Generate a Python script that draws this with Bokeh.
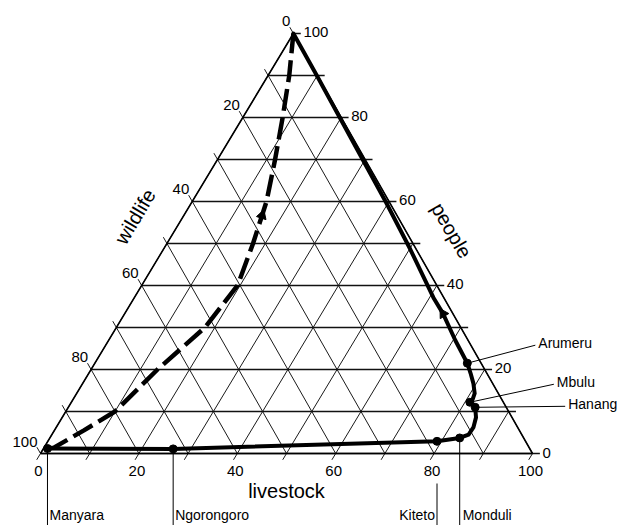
import math
import numpy as np
from bokeh.plotting import figure
from bokeh.models import Range1d
from bokeh.core.properties import value
from bokeh.embed import file_html
from bokeh.resources import INLINE

# ---------------- data (percent livestock, percent people; wildlife = rest) ----------------
district_names = ["Manyara", "Ngorongoro", "Kiteto", "Monduli", "Hanang", "Mbulu", "Arumeru"]
district_livestock = [0.8, 26.4, 79.1, 83.3, 82.7, 81.0, 75.7]
district_people = [1.2, 1.1, 2.9, 3.7, 11.0, 12.2, 21.5]

# solid trajectory (through the districts, then up the people side)
solid_livestock = [0.8, 26.4, 79.1, 83.3, 84.7, 84.8, 84.1, 82.7, 81.0, 81.2, 80.9,
                   79.4, 77.6, 75.7, 70.5, 64.7, 60.8, 50.0, 39.3, 29.5, 19.7, 9.9, 0.0]
solid_people = [1.2, 1.1, 2.9, 3.7, 4.5, 6.2, 8.6, 11.0, 12.2, 12.9, 14.3,
                16.7, 19.1, 21.5, 26.9, 33.3, 37.1, 48.8, 60.0, 70.0, 80.0, 90.0, 100.0]

# dashed trajectory
dashed_livestock = [0.8, 2.0, 6.0, 10.0, 13.5, 18.0, 19.5, 17.5, 15.1, 11.7, 8.1, 4.3, 0.0]
dashed_people = [1.2, 1.4, 5.5, 10.0, 20.0, 30.0, 40.0, 50.0, 60.0, 70.0, 80.0, 90.0, 100.0]

# arrowheads (one on each trajectory)
arrow_livestock = [15.9, 64.7]
arrow_people = [56.7, 33.3]

grid_values = [0, 10, 20, 30, 40, 50, 60, 70, 80, 90, 100]
label_values = [0, 20, 40, 60, 80, 100]
axis_titles = ["livestock", "wildlife", "people"]

# ---------------- geometry / layout ----------------
PX = 4.92          # screen px per percent
SKEW = 0.514       # apex shift (scan is slightly sheared)
VS = 0.8537        # vertical scale of people axis
EXT = 1.5          # tick extension length (percent units)
FONT = value("Liberation Sans")
W, H = 621, 525
ORIGIN_X, ORIGIN_Y = 40, 453   # screen position of the bottom-left corner


def to_xy(L, P):
    L = np.asarray(L, dtype=float)
    P = np.asarray(P, dtype=float)
    return L + SKEW * P, VS * P


def sy(py):
    """screen row -> data y"""
    return (ORIGIN_Y - py) / PX


X0 = -ORIGIN_X / PX
X1 = X0 + W / PX
Y1 = ORIGIN_Y / PX
Y0 = Y1 - H / PX

p = figure(width=W, height=H, x_range=Range1d(X0, X1), y_range=Range1d(Y0, Y1),
           output_backend="svg", toolbar_location=None, min_border=0,
           x_axis_location=None, y_axis_location=None)
p.grid.visible = False
p.outline_line_color = None
p.background_fill_color = "white"
p.border_fill_color = "white"

# ---------------- grid lines with tick extensions ----------------
hx, hy, dx_, dy_ = [], [], [], []
for t in grid_values:
    a = to_xy([0, 100 - t + EXT], [t, t])                 # constant people
    hx.append(list(a[0])); hy.append(list(a[1]))
    b = to_xy([100 - t, -EXT], [0, 100 - t + EXT])        # constant wildlife
    dx_.append(list(b[0])); dy_.append(list(b[1]))
    c = to_xy([t, t], [100 - t, -EXT])                    # constant livestock
    dx_.append(list(c[0])); dy_.append(list(c[1]))

p.multi_line(dx_, dy_, line_color="#1a1a1a", line_width=1.0)
p.multi_line(hx, hy, line_color="#111111", line_width=1.6)
tri = to_xy([0, 100, 0, 0], [0, 0, 100, 0])
p.line(tri[0], tri[1], line_color="black", line_width=1.6)

# ---------------- tick labels ----------------
lab = [str(v) for v in label_values]
px_, py_ = to_xy([100 - v for v in label_values], label_values)
p.text(px_, py_, text=lab, text_align="left", text_baseline="middle",
       x_offset=10, y_offset=-1, text_font=FONT, text_font_size="15px", text_color="black")
wx_, wy_ = to_xy([0] * len(label_values), [100 - v for v in label_values])
p.text(wx_, wy_, text=lab, text_align="right", text_baseline="middle",
       x_offset=-3, y_offset=-12, text_font=FONT, text_font_size="15px", text_color="black")
lx_, ly_ = to_xy(label_values, [0] * len(label_values))
p.text(lx_, ly_, text=lab, text_align="center", text_baseline="middle",
       x_offset=-2, y_offset=17, text_font=FONT, text_font_size="15px", text_color="black")

# ---------------- axis titles ----------------
t1 = to_xy([50], [0])
p.text(t1[0], t1[1], text=[axis_titles[0]], text_align="center", text_baseline="middle",
       y_offset=37, text_font=FONT, text_font_size="20px", text_color="black")
t2 = to_xy([0], [56.4])
p.text(t2[0], t2[1], text=[axis_titles[1]], text_align="center", text_baseline="middle",
       x_offset=-48, angle=math.radians(59), text_font=FONT, text_font_size="20px",
       text_color="black")
t3 = to_xy([46.9], [53.1])
p.text(t3[0], t3[1], text=[axis_titles[2]], text_align="center", text_baseline="middle",
       x_offset=46, angle=math.radians(-60), text_font=FONT, text_font_size="20px",
       text_color="black")

# ---------------- trajectories ----------------
sx, sy_ = to_xy(solid_livestock, solid_people)
p.line(sx, sy_, line_color="black", line_width=4, line_join="round", line_cap="round")
ddx, ddy = to_xy(dashed_livestock, dashed_people)
p.line(ddx, ddy, line_color="black", line_width=4.5, line_dash="22 7", line_join="round")


def seg_angle(xs, ys, x, y):
    best, ang = 1e9, 0.0
    for i in range(len(xs) - 1):
        mx, my = (xs[i] + xs[i + 1]) / 2, (ys[i] + ys[i + 1]) / 2
        d = (mx - x) ** 2 + (my - y) ** 2
        if d < best:
            best = d
            ang = math.atan2(ys[i + 1] - ys[i], xs[i + 1] - xs[i]) - math.pi / 2
    return ang


ax_, ay_ = to_xy(arrow_livestock, arrow_people)
angles = [seg_angle(ddx, ddy, ax_[0], ay_[0]), seg_angle(sx, sy_, ax_[1], ay_[1])]
p.scatter(ax_, ay_, marker="triangle", size=10, angle=angles, fill_color="black",
          line_color="black")

# ---------------- districts ----------------
dxs, dys = to_xy(district_livestock, district_people)
p.scatter(dxs, dys, size=8, fill_color="black", line_color="black")

BOTTOM_Y = Y0
LABEL_Y = sy(522)
bottom_idx = [0, 1, 2, 3]
start_y = [dys[0], dys[1], sy(483), dys[3]]
p.multi_line([[dxs[i], dxs[i]] for i in bottom_idx],
             [[start_y[k], BOTTOM_Y] for k, i in enumerate(bottom_idx)],
             line_color="black", line_width=1.0)
aligns = ["left", "left", "right", "left"]
offs = [2, 2, -2, 3]
for k, i in enumerate(bottom_idx):
    p.text([dxs[i]], [LABEL_Y], text=[district_names[i]], text_align=aligns[k],
           text_baseline="bottom", x_offset=offs[k], text_font=FONT,
           text_font_size="14px", text_color="black")

right_idx = [4, 5, 6]
leader_dx = [90, 84, 68]
leader_dy = [-1, -18, -18]
ex = [dxs[i] + leader_dx[k] / PX for k, i in enumerate(right_idx)]
ey = [dys[i] - leader_dy[k] / PX for k, i in enumerate(right_idx)]
p.multi_line([[dxs[i], ex[k]] for k, i in enumerate(right_idx)],
             [[dys[i], ey[k]] for k, i in enumerate(right_idx)],
             line_color="black", line_width=1.0)
p.text(ex, ey, text=[district_names[i] for i in right_idx], text_align="left",
       text_baseline="middle", x_offset=3, y_offset=-2, text_font=FONT,
       text_font_size="14px", text_color="black")

open("out.html", "w").write(file_html(p, INLINE))
